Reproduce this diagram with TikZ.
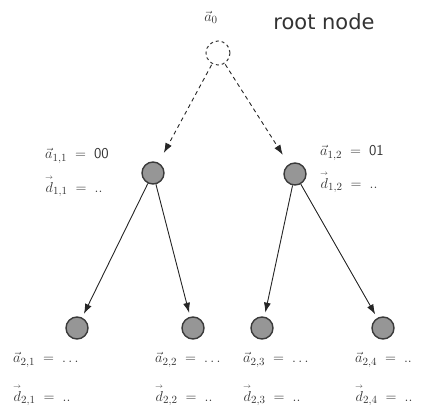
\documentclass[tikz,border=0pt]{standalone}
\usepackage{amsmath}
\usepackage{fontspec}
\newfontfamily\rootfont{DejaVu Sans}
\usetikzlibrary{arrows.meta}
\definecolor{nodefill}{HTML}{969696}
\definecolor{nodeedge}{HTML}{3A3A3A}
\newcommand{\vd}{\overset{\scriptscriptstyle\rightarrow}{d}}
\tikzset{
  treenode/.style={circle, draw=nodeedge, line width=1.4pt, fill=nodefill, minimum size=22pt, inner sep=0pt},
  rootcirc/.style={circle, draw=nodeedge, dash pattern=on 3pt off 3pt, line width=1pt, fill=white, minimum size=24pt, inner sep=0pt},
  lbl/.style={anchor=west, inner sep=0pt, text=black!80, font=\fontsize{15}{17}\selectfont},
  solidarrow/.style={-{Latex[length=10pt,width=7pt]}, line width=0.9pt, draw=black!85, shorten >=4pt},
  dasharrow/.style={-{Latex[length=10pt,width=7pt]}, line width=0.9pt, draw=black!85, dash pattern=on 4pt off 3.5pt, shorten >=11pt, shorten <=1pt}
}
\begin{document}
\begin{tikzpicture}[x=1pt,y=1pt]
\useasboundingbox (0,0) rectangle (422,414);
% nodes
\node[rootcirc] (root) at (218,361) {};
\node[treenode] (n11) at (153,241) {};
\node[treenode] (n12) at (295,240) {};
\node[treenode] (n21) at (77,86) {};
\node[treenode] (n22) at (193,86) {};
\node[treenode] (n23) at (262,86) {};
\node[treenode] (n24) at (383,86) {};
% labels
\node[inner sep=0pt, text=black!80, font=\fontsize{15}{17}\selectfont] (a0) at (211,397) {$\vec{a}_{0}$};
\node[inner sep=0pt, text=black!80, font=\rootfont\fontsize{21}{24}\selectfont] (rootlbl) at (324,392) {root node};
\node[lbl] (a11) at (45,258) {$\vec{a}_{1,1}\;=\;\textsf{00}$};
\node[lbl] (d11) at (45,228) {$\vd_{1,1}\;=\;..$};
\node[lbl] (a12) at (320,261) {$\vec{a}_{1,2}\;=\;\textsf{01}$};
\node[lbl] (d12) at (320,232) {$\vd_{1,2}\;=\;..$};
\node[lbl] (a21) at (13,54) {$\vec{a}_{2,1}\;=\;\ldots$};
\node[lbl] (d21) at (13,19) {$\vd_{2,1}\;=\;..$};
\node[lbl] (a22) at (155,54) {$\vec{a}_{2,2}\;=\;\ldots$};
\node[lbl] (d22) at (155,19) {$\vd_{2,2}\;=\;..$};
\node[lbl] (a23) at (243,54) {$\vec{a}_{2,3}\;=\;\ldots$};
\node[lbl] (d23) at (243,19) {$\vd_{2,3}\;=\;..$};
\node[lbl] (a24) at (355,54) {$\vec{a}_{2,4}\;=\;..$};
\node[lbl] (d24) at (355,19) {$\vd_{2,4}\;=\;..$};
% connectors
\draw[dasharrow] (root) -- (n11);
\draw[dasharrow] (root) -- (n12);
\draw[solidarrow] (n11) -- (n21);
\draw[solidarrow] (n11) -- (n22);
\draw[solidarrow] (n12) -- (n23);
\draw[solidarrow] (n12) -- (n24);
\end{tikzpicture}
\end{document}
